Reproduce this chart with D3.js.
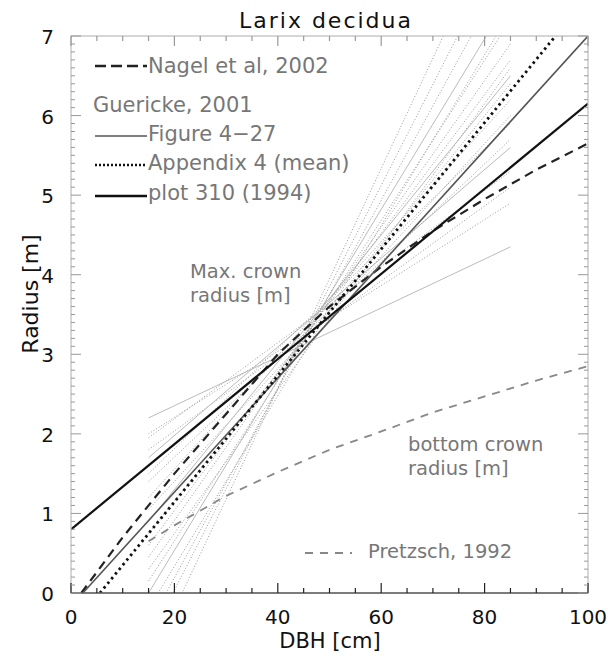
<!DOCTYPE html>
<html>
<head>
<meta charset="utf-8">
<script src="https://cdn.jsdelivr.net/npm/d3@7"></script>
<style>
  body { margin: 0; background: #fff; }
  text { font-family: "DejaVu Sans", sans-serif; }
</style>
</head>
<body>
<div id="chart"></div>
<script>
// Guericke 2001 single-tree lines (thin gray dotted), given at DBH 15 and 85
var guerickeDbh = [15, 85];
var guerickeStart = [2.2, 2.0, 1.95, 1.8, 1.7, 1.5, 1.4, 1.2, 1.05, 0.9, 0.75, 0.6, 0.45, 0.3, 0.15, 0.0, -0.2, -0.4, -0.6, -0.9];
var guerickeEnd = [4.35, 4.9, 5.3, 5.1, 5.6, 5.9, 5.7, 6.2, 6.0, 6.5, 6.4, 6.7, 6.9, 6.6, 7.2, 7.5, 7.3, 7.9, 8.3, 8.8];

// Nagel et al 2002 (dashed)
var nagelDbh = [2, 10, 20, 30, 40, 50, 60, 70, 80, 90, 100];
var nagelR = [0, 0.7, 1.5, 2.25, 3.0, 3.6, 4.1, 4.55, 4.95, 5.32, 5.65];

// Figure 4-27
var figDbh = [2.3, 100];
var figR = [0, 7.0];

// Appendix 4 (mean)
var appDbh = [5.6, 100];
var appR = [0, 7.5];

// plot 310 (1994)
var plotDbh = [0, 100];
var plotR = [0.8, 6.15];

// Pretzsch 1992 bottom crown radius
var pretzschDbh = [15, 20, 30, 40, 50, 60, 70, 80, 90, 100];
var pretzschR = [0.65, 0.85, 1.22, 1.52, 1.8, 2.03, 2.27, 2.47, 2.67, 2.85];

var xTicks = [0, 20, 40, 60, 80, 100];
var yTicks = [0, 1, 2, 3, 4, 5, 6, 7];

var width = 608, height = 660;
var margin = { top: 36, right: 20, bottom: 67, left: 71 };

var svg = d3.select("#chart").append("svg")
    .attr("width", width)
    .attr("height", height);

var x = d3.scaleLinear().domain([0, 100]).range([margin.left, width - margin.right]);
var y = d3.scaleLinear().domain([0, 7]).range([height - margin.bottom, margin.top]);

svg.append("clipPath").attr("id", "clip")
    .append("rect")
    .attr("x", x(0)).attr("y", y(7))
    .attr("width", x(100) - x(0)).attr("height", y(0) - y(7));

var line = d3.line()
    .x(function (d) { return x(d[0]); })
    .y(function (d) { return y(d[1]); });

function pairs(xs, ys) {
    return xs.map(function (v, i) { return [v, ys[i]]; });
}

var plot = svg.append("g").attr("clip-path", "url(#clip)");

// thin gray Guericke lines
guerickeStart.forEach(function (s, i) {
    var solid = (i == 0 || i == 4 || i == 9 || i == 15);
    plot.append("path")
        .attr("d", line(pairs(guerickeDbh, [s, guerickeEnd[i]])))
        .style("fill", "none")
        .style("stroke", solid ? "#bbb" : "#999")
        .style("stroke-width", 1)
        .style("stroke-dasharray", solid ? null : "1,2");
});

// Pretzsch
plot.append("path")
    .attr("d", line(pairs(pretzschDbh, pretzschR)))
    .style("fill", "none").style("stroke", "#888")
    .style("stroke-width", 1.8).style("stroke-dasharray", "8,7");

// Nagel
plot.append("path")
    .attr("d", line(pairs(nagelDbh, nagelR)))
    .style("fill", "none").style("stroke", "#222")
    .style("stroke-width", 2.2).style("stroke-dasharray", "9,6");

// Figure 4-27
plot.append("path")
    .attr("d", line(pairs(figDbh, figR)))
    .style("fill", "none").style("stroke", "#555")
    .style("stroke-width", 1.6);

// Appendix 4 mean
plot.append("path")
    .attr("d", line(pairs(appDbh, appR)))
    .style("fill", "none").style("stroke", "#111")
    .style("stroke-width", 2.8).style("stroke-dasharray", "2.5,3.5");

// plot 310
plot.append("path")
    .attr("d", line(pairs(plotDbh, plotR)))
    .style("fill", "none").style("stroke", "#111")
    .style("stroke-width", 2.2);

// axes frame
var axes = svg.append("g").style("stroke", "#222").style("stroke-width", 1.2);
axes.append("rect")
    .attr("x", x(0)).attr("y", y(7))
    .attr("width", x(100) - x(0)).attr("height", y(0) - y(7))
    .style("fill", "none").style("stroke", "#bbb");
axes.append("line")
    .attr("x1", x(0)).attr("x2", x(100))
    .attr("y1", y(0)).attr("y2", y(0));

// x ticks, minor every 5, major every 20, on bottom and top
d3.range(0, 101, 5).forEach(function (v) {
    var len = v % 20 == 0 ? 10 : 5;
    axes.append("line").attr("x1", x(v)).attr("x2", x(v))
        .attr("y1", y(0)).attr("y2", y(0) - len);
    axes.append("line").attr("x1", x(v)).attr("x2", x(v))
        .attr("y1", y(7)).attr("y2", y(7) + len)
        .style("stroke", "#999");
});

// y ticks, minor every 0.1, major every 1, on left and right
d3.range(0, 71).forEach(function (k) {
    var v = k / 10;
    var len = k % 10 == 0 ? 10 : 4;
    axes.append("line").attr("x1", x(0)).attr("x2", x(0) + len)
        .attr("y1", y(v)).attr("y2", y(v))
        .style("stroke", "#999").style("stroke-width", 1);
    axes.append("line").attr("x1", x(100)).attr("x2", x(100) - len)
        .attr("y1", y(v)).attr("y2", y(v))
        .style("stroke", "#999").style("stroke-width", 1);
});

// tick labels
svg.selectAll(".xlab").data(xTicks).enter().append("text")
    .attr("x", function (d) { return x(d); })
    .attr("y", y(0) + 31)
    .attr("text-anchor", "middle")
    .style("font-size", "20px").style("fill", "#111")
    .text(function (d) { return d; });

svg.selectAll(".ylab").data(yTicks).enter().append("text")
    .attr("x", x(0) - 17)
    .attr("y", function (d) { return y(d) + 8; })
    .attr("text-anchor", "end")
    .style("font-size", "20px").style("fill", "#111")
    .text(function (d) { return d; });

// titles
svg.append("text").attr("x", 325).attr("y", 28)
    .attr("text-anchor", "middle").style("font-size", "22px").style("fill", "#111")
    .attr("textLength", 172).attr("lengthAdjust", "spacing")
    .text("Larix decidua");
svg.append("text").attr("x", 330).attr("y", 648)
    .attr("text-anchor", "middle").style("font-size", "21px").style("fill", "#111")
    .text("DBH [cm]");
svg.append("text")
    .attr("transform", "translate(38,294) rotate(-90)")
    .attr("text-anchor", "middle").style("font-size", "22px").style("fill", "#111")
    .text("Radius [m]");

// legend
var legend = svg.append("g");
var legRows = [
    { y: 73, ly: 66, label: "Nagel et al, 2002", stroke: "#222", w: 2.4, dash: "11,5" },
    { y: 112, label: "Guericke, 2001", stroke: null },
    { y: 141, ly: 136, label: "Figure 4\u221227", stroke: "#555", w: 1.6, dash: null },
    { y: 170, ly: 165, label: "Appendix 4 (mean)", stroke: "#111", w: 2.6, dash: "2,2" },
    { y: 200, ly: 196, label: "plot 310 (1994)", stroke: "#111", w: 2.4, dash: null }
];
legRows.forEach(function (r) {
    if (r.stroke) {
        legend.append("line").attr("x1", 95).attr("x2", 147)
            .attr("y1", r.ly).attr("y2", r.ly)
            .style("stroke", r.stroke).style("stroke-width", r.w)
            .style("stroke-dasharray", r.dash);
    }
    legend.append("text").attr("x", r.stroke ? 148 : 93).attr("y", r.y)
        .style("font-size", "21px").style("fill", "#777")
        .text(r.label);
});

// annotations
function note(tx, ty, s) {
    svg.append("text").attr("x", tx).attr("y", ty)
        .style("font-size", "19.5px").style("fill", "#777").text(s);
}
note(190, 278, "Max. crown");
note(190, 302, "radius [m]");
note(408, 451, "bottom crown");
note(408, 475, "radius [m]");
svg.append("line").attr("x1", 305).attr("x2", 352).attr("y1", 553).attr("y2", 553)
    .style("stroke", "#888").style("stroke-width", 1.8).style("stroke-dasharray", "8,7");
note(368, 558, "Pretzsch, 1992");
</script>
</body>
</html>
